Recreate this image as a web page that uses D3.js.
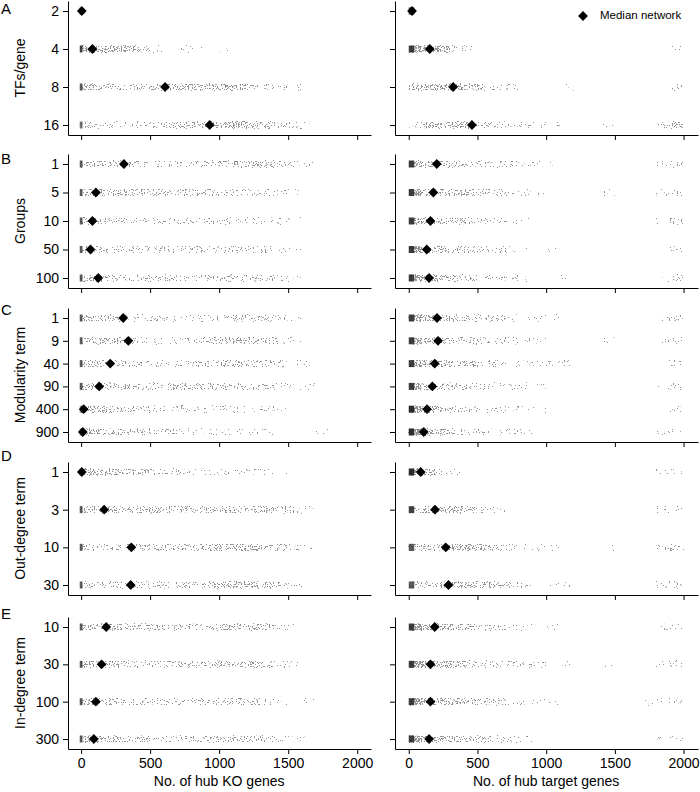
<!DOCTYPE html>
<html>
<head>
<meta charset="utf-8">
<script src="https://cdn.jsdelivr.net/npm/d3@7"></script>
<style>
  body { margin: 0; background: #fff; }
  svg text { font-family: "Liberation Sans", Arial, sans-serif; fill: #000; }
</style>
</head>
<body>
<svg id="chart" width="700" height="792"></svg>
<script>
// categories (y) per panel
var tfsGene    = ['2', '4', '8', '16'];
var groups     = ['1', '5', '10', '50', '100'];
var modularity = ['1', '9', '40', '90', '400', '900'];
var outDegree  = ['1', '3', '10', '30'];
var inDegree   = ['10', '30', '100', '300'];
var xTicks = [0, 500, 1000, 1500, 2000];
var binSize = 100;   // density bins (0-9)

// ---- No. of hub KO genes (left column) ----
var koDensA = [
  [],
  [8,7,7,6,4,1,0,1,1,0,1],
  [6,4,4,4,4,5,5,6,6,6,6,5,4,3,2,1],
  [4,3,3,3,3,3,4,4,4,5,6,6,6,5,4,2,1]
];
var koZeroA = [9, 8, 7, 6];
var koMedA  = [5, 82, 608, 931];

var koDensB = [
  [5,5,5,4,3,3,3,3,4,4,5,5,5,5,4,2,1],
  [5,5,5,5,4,4,4,4,4,4,4,3,3,3,2,1],
  [5,4,3,3,3,3,3,3,3,4,4,3,3,2,2,1],
  [5,4,3,3,3,3,3,3,3,3,3,3,3,3,2,1],
  [5,5,4,3,3,3,3,3,3,3,4,4,4,3,2,1]
];
var koZeroB = [7, 7, 7, 7, 7];
var koMedB  = [310, 107, 82, 68, 124];

var koDensC = [
  [5,5,5,3,3,3,3,3,3,3,4,4,4,4,2,1],
  [5,5,5,4,3,3,3,3,3,4,4,5,5,4,3,1],
  [5,4,3,3,3,3,3,3,4,4,5,5,4,4,3,2,1],
  [6,5,4,4,3,3,4,4,4,4,4,4,4,3,3,2,1],
  [6,5,5,4,4,3,3,3,3,3,3,2,2,2,1],
  [6,5,5,4,4,3,3,3,2,2,2,2,2,1,0,0,0,1]
];
var koZeroC = [7, 7, 7, 7, 5, 5];
var koMedC  = [305, 342, 211, 131, 19, 12];

var koDensD = [
  [7,6,6,5,5,3,2,2,2,2,2,2,2,2,1],
  [6,5,5,5,5,5,5,5,5,5,5,5,5,5,4,3,1],
  [5,4,4,4,4,4,4,4,4,5,5,6,6,5,4,2,1],
  [5,4,4,4,4,4,4,4,4,5,5,6,6,5,4,1]
];
var koZeroD = [5, 7, 7, 7];
var koMedD  = [5, 167, 364, 359];

var koDensE = [
  [6,5,5,4,4,4,4,4,4,4,4,5,5,4,2,1],
  [6,5,5,4,4,3,3,4,4,4,4,5,5,4,3,1],
  [6,5,5,4,4,4,3,3,4,4,4,4,4,3,1,0,1],
  [6,5,5,4,4,3,3,3,3,4,4,4,5,4,3,2,1]
];
var koZeroE = [7, 7, 7, 7];
var koMedE  = [182, 148, 107, 92];

// ---- No. of hub target genes (right column) ----
var tgDensA = [
  [],
  [9,8,7,3,1,0,0,0,0,0,0,0,0,0,0,0,0,0,0,1],
  [6,6,6,6,5,4,3,2,0,0,0,1,0,0,0,0,0,0,0,2],
  [4,6,6,6,5,4,3,2,1,1,1,0,0,0,1,0,0,0,3,5]
];
var tgZeroA = [9, 8, 0, 0];
var tgMedA  = [24, 153, 323, 460];

var tgDensB = [
  [8,6,5,4,4,3,3,3,2,1,1,0,0,0,0,0,0,0,2,3],
  [8,6,5,5,4,4,3,3,2,1,0,0,0,0,1,0,0,0,2,2],
  [8,6,5,4,4,3,3,2,1,0,0,0,0,0,0,0,0,0,2,3],
  [9,6,5,4,4,3,3,2,1,0,1,0,0,0,0,0,0,0,0,3],
  [9,6,5,4,4,3,3,2,1,0,0,1,0,0,0,0,0,0,1,3]
];
var tgZeroB = [8, 8, 8, 8, 8];
var tgMedB  = [204, 179, 158, 131, 148];

var tgDensC = [
  [8,6,5,4,4,3,3,3,2,2,1,0,0,0,0,0,0,0,1,3],
  [8,6,5,4,4,3,3,2,2,1,0,0,0,0,1,0,0,0,2,3],
  [8,6,5,4,4,3,3,2,2,1,1,1,0,0,0,0,0,0,0,3],
  [8,6,5,4,4,3,3,2,2,1,0,0,0,0,0,0,0,0,1,3],
  [9,6,5,4,3,3,3,2,1,1,0,0,0,0,0,0,0,0,0,2],
  [9,6,5,4,3,3,2,2,1,0,0,0,0,0,0,0,0,0,1,2]
];
var tgZeroC = [8, 8, 8, 8, 9, 9];
var tgMedC  = [206, 213, 189, 172, 133, 109];

var tgDensD = [
  [9,7,3,2,1,0,0,0,0,0,0,0,0,0,0,0,0,0,1,1],
  [3,6,6,6,5,2,1,0,0,0,0,0,0,0,0,0,0,0,1,1],
  [4,5,5,6,6,5,4,2,1,1,1,0,0,0,1,0,0,0,2,3],
  [4,5,5,6,6,5,5,4,3,1,1,1,0,0,0,0,0,0,2,3]
];
var tgZeroD = [9, 8, 7, 7];
var tgMedD  = [87, 191, 269, 289];

var tgDensE = [
  [9,7,6,5,5,4,3,2,1,1,1,0,0,0,0,0,0,0,1,3],
  [9,7,6,5,4,4,3,2,2,1,0,1,0,0,1,0,0,0,1,3],
  [9,7,6,5,4,4,3,2,2,1,1,0,0,0,0,0,0,1,1,3],
  [9,7,6,5,5,4,3,2,1,0,0,0,0,0,0,0,0,0,2,3]
];
var tgZeroE = [8, 8, 8, 8];
var tgMedE  = [189, 158, 158, 148];

// layout
var panels = [
  { letter: 'A', ly: 10,  title: 'TFs/gene',        cats: tfsGene,    top: 1,   bottom: 135,
    ko: { dens: koDensA, zero: koZeroA, med: koMedA }, tg: { dens: tgDensA, zero: tgZeroA, med: tgMedA } },
  { letter: 'B', ly: 160, title: 'Groups',          cats: groups,     top: 154, bottom: 288,
    ko: { dens: koDensB, zero: koZeroB, med: koMedB }, tg: { dens: tgDensB, zero: tgZeroB, med: tgMedB } },
  { letter: 'C', ly: 311, title: 'Modularity term', cats: modularity, top: 308, bottom: 442,
    ko: { dens: koDensC, zero: koZeroC, med: koMedC }, tg: { dens: tgDensC, zero: tgZeroC, med: tgMedC } },
  { letter: 'D', ly: 457, title: 'Out-degree term', cats: outDegree,  top: 462, bottom: 595,
    ko: { dens: koDensD, zero: koZeroD, med: koMedD }, tg: { dens: tgDensD, zero: tgZeroD, med: tgMedD } },
  { letter: 'E', ly: 615, title: 'In-degree term',  cats: inDegree,   top: 617, bottom: 749,
    ko: { dens: koDensE, zero: koZeroE, med: koMedE }, tg: { dens: tgDensE, zero: tgZeroE, med: tgMedE } }
];
var cols = [
  { key: 'ko', x0: 68,  x1: 371, domain: [-95, 2100],  zeroSpan: [-10, 10], title: 'No. of hub KO genes',     labels: true },
  { key: 'tg', x0: 395, x1: 698, domain: [-100, 2105], zeroSpan: [0, 40],   title: 'No. of hub target genes', labels: false }
];
var bandH = 7;

var svg = d3.select('#chart');
var defs = svg.append('defs');

// speckle filter: bin opacity is compared with browser noise, so denser bins keep more specks
var flt = defs.append('filter')
    .attr('id', 'speckle')
    .attr('filterUnits', 'userSpaceOnUse')
    .attr('x', 0).attr('y', 0).attr('width', 700).attr('height', 792)
    .attr('color-interpolation-filters', 'sRGB');
flt.append('feTurbulence')
    .attr('type', 'fractalNoise')
    .attr('baseFrequency', 0.75)
    .attr('numOctaves', 2)
    .attr('seed', 4)
    .attr('result', 'noise');
flt.append('feColorMatrix')
    .attr('in', 'noise')
    .attr('type', 'matrix')
    .attr('values', '0 0 0 0 0  0 0 0 0 0  0 0 0 0 0  3 0 0 0 -0.6')
    .attr('result', 'na');
flt.append('feComposite')
    .attr('in', 'SourceGraphic')
    .attr('in2', 'na')
    .attr('operator', 'arithmetic')
    .attr('k1', 0).attr('k2', 25).attr('k3', -25).attr('k4', 0)
    .attr('result', 'hit');
flt.append('feColorMatrix')
    .attr('in', 'hit')
    .attr('type', 'matrix')
    .attr('values', '0 0 0 0 0.47  0 0 0 0 0.47  0 0 0 0 0.47  0 0 0 0.8 0');

var levelAlpha = d3.scaleLinear().domain([1, 9]).range([0.28, 1]);
var clouds = svg.append('g').attr('filter', 'url(#speckle)');
var spikes = svg.append('g');
var marks = svg.append('g');

var diamond = d3.symbol(d3.symbolSquare, 48);

panels.forEach(function(p, pi) {
  var n = p.cats.length;
  var y = d3.scalePoint()
      .domain(p.cats)
      .range([p.top, p.bottom])
      .padding(10 * (n - 1) / (p.bottom - p.top - 20));

  cols.forEach(function(c) {
    var x = d3.scaleLinear().domain(c.domain).range([c.x0, c.x1]);
    var d = p[c.key];
    var last = pi === panels.length - 1;

    // jittered clouds as density bins
    p.cats.forEach(function(cat, ri) {
      var yy = y(cat) - bandH / 2;
      clouds.selectAll(null)
          .data(d.dens[ri].map(function(v, bi) { return { v: v, b: bi }; }).filter(function(e) { return e.v > 0; }))
          .enter().append('rect')
          .attr('x', function(e) { return x(e.b * binSize); })
          .attr('width', x(binSize) - x(0))
          .attr('y', yy)
          .attr('height', bandH)
          .attr('fill', '#000')
          .attr('fill-opacity', function(e) { return levelAlpha(e.v); });
      if (d.zero[ri] > 0) {
        spikes.append('rect')
            .attr('x', x(c.zeroSpan[0]))
            .attr('width', x(c.zeroSpan[1]) - x(c.zeroSpan[0]))
            .attr('y', yy)
            .attr('height', bandH)
            .attr('fill', '#2a2a2a')
            .attr('opacity', d.zero[ri] / 9);
      }
    });

    // axes
    var xa = svg.append('g')
        .attr('transform', 'translate(0,' + p.bottom + ')')
        .call(d3.axisBottom(x).tickValues(xTicks).tickSize(5).tickSizeOuter(0).tickPadding(4)
          .tickFormat(last ? d3.format('d') : ''));
    var ya = svg.append('g')
        .attr('transform', 'translate(' + c.x0 + ',0)')
        .call(d3.axisLeft(y).tickSize(5).tickSizeOuter(0).tickPadding(4)
          .tickFormat(c.labels ? null : ''));
    [xa, ya].forEach(function(a) {
      a.attr('font-size', 14).attr('font-family', '"Liberation Sans", Arial, sans-serif');
      a.selectAll('path, line').attr('stroke', '#000').attr('stroke-width', 1);
    });

    // medians
    marks.selectAll(null)
        .data(d.med)
        .enter().append('path')
        .attr('d', diamond)
        .attr('transform', function(m, ri) { return 'translate(' + x(m) + ',' + y(p.cats[ri]) + ') rotate(45)'; })
        .attr('fill', '#000');

    if (last) {
      svg.append('text')
          .attr('x', x(1000))
          .attr('y', 786)
          .attr('text-anchor', 'middle')
          .attr('font-size', 14)
          .text(c.title);
    }
  });

  svg.append('text')
      .attr('x', 1)
      .attr('y', p.ly)
      .attr('dominant-baseline', 'middle')
      .attr('font-size', 15)
      .text(p.letter);

  svg.append('text')
      .attr('transform', 'translate(21,' + (p.top + p.bottom) / 2 + ') rotate(-90)')
      .attr('text-anchor', 'middle')
      .attr('dominant-baseline', 'middle')
      .attr('font-size', 14)
      .text(p.title);
});

// legend
marks.append('path')
    .attr('d', diamond)
    .attr('transform', 'translate(583,16) rotate(45)')
    .attr('fill', '#000');
svg.append('text')
    .attr('x', 600)
    .attr('y', 16)
    .attr('dominant-baseline', 'middle')
    .attr('font-size', 11.5)
    .text('Median network');
</script>
</body>
</html>
